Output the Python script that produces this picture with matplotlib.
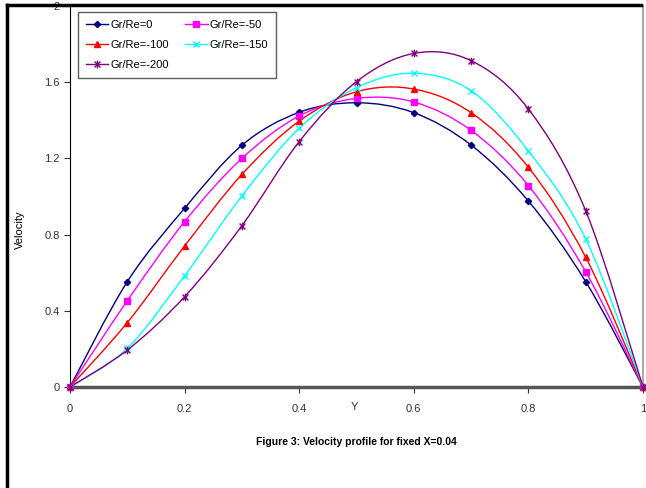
import numpy as np
import matplotlib
matplotlib.use('Agg')
import matplotlib.pyplot as plt
from matplotlib.path import Path
from matplotlib.patches import PathPatch
from matplotlib.lines import Line2D

plt.rcParams['font.family'] = ['Liberation Sans', 'DejaVu Sans']

# data
y_pos = [0, 0.1, 0.2, 0.3, 0.4, 0.5, 0.6, 0.7, 0.8, 0.9, 1.0]
v_0 = [0, 0.553, 0.938, 1.269, 1.442, 1.492, 1.440, 1.270, 0.976, 0.553, 0]
v_50 = [0, 0.453, 0.868, 1.200, 1.423, 1.515, 1.496, 1.347, 1.057, 0.605, 0]
v_100 = [0, 0.338, 0.740, 1.116, 1.396, 1.550, 1.564, 1.440, 1.153, 0.681, 0]
v_150 = [0, 0.203, 0.584, 1.003, 1.358, 1.571, 1.647, 1.555, 1.239, 0.777, 0]
v_200 = [0, 0.194, 0.474, 0.847, 1.288, 1.603, 1.751, 1.713, 1.459, 0.925, 0]
labels = ['Gr/Re=0', 'Gr/Re=-50', 'Gr/Re=-100', 'Gr/Re=-150', 'Gr/Re=-200']

# excel-like star marker: x with a vertical bar
star = Path([(-1, -1), (1, 1), (-1, 1), (1, -1), (0, -1.3), (0, 1.3)],
            [Path.MOVETO, Path.LINETO, Path.MOVETO, Path.LINETO, Path.MOVETO, Path.LINETO])

styles = [
    dict(color='#000080', marker='D', ms=3.2),
    dict(color='#FF00FF', marker='s', ms=4.3),
    dict(color='#FF0000', marker='^', ms=5),
    dict(color='#00FFFF', marker='x', ms=5),
    dict(color='#800080', marker=star, ms=5.5),
]


def smooth_path(xs, ys):
    # bezier smoothing like excel's "smoothed line"
    pts = np.column_stack([xs, ys])
    n = len(pts)
    verts = [pts[0]]
    codes = [Path.MOVETO]
    for i in range(n - 1):
        p0 = pts[max(i - 1, 0)]
        p1 = pts[i]
        p2 = pts[i + 1]
        p3 = pts[min(i + 2, n - 1)]
        c1 = p1 + (p2 - p0) / 6.0
        c2 = p2 - (p3 - p1) / 6.0
        verts += [c1, c2, p2]
        codes += [Path.CURVE4] * 3
    return Path(verts, codes)


fig = plt.figure(figsize=(6.46, 4.88), dpi=100)
ax = fig.add_axes([70 / 646, 1 - 387 / 488, 573 / 646, 381 / 488])

handles = []
for vals, lab, st in zip([v_0, v_50, v_100, v_150, v_200], labels, styles):
    ax.add_patch(PathPatch(smooth_path(y_pos, vals), facecolor='none',
                           edgecolor=st['color'], lw=1.0, zorder=3))
    ax.plot(y_pos, vals, ls='none', marker=st['marker'], ms=st['ms'],
            color=st['color'], mec=st['color'], mew=1.0, zorder=4, clip_on=False)
    handles.append(Line2D([], [], color=st['color'], lw=1.0, marker=st['marker'],
                          ms=st['ms'], mew=1.0, label=lab))

ax.set_xlim(0, 1)
ax.set_ylim(0, 2)
ax.set_xticks([0, 0.2, 0.4, 0.6, 0.8, 1])
ax.set_xticklabels(['0', '0.2', '0.4', '0.6', '0.8', '1'])
ax.set_yticks([0, 0.4, 0.8, 1.2, 1.6, 2])
ax.set_yticklabels(['0', '0.4', '0.8', '1.2', '1.6', '2'])
ax.tick_params(labelsize=8, colors='#333333', length=4, width=0.8, direction='out')
ax.tick_params(axis='x', pad=8)

ax.spines['bottom'].set_color('#555555')
ax.spines['bottom'].set_linewidth(2.5)
ax.spines['left'].set_color('black')
ax.spines['left'].set_linewidth(0.8)
ax.spines['right'].set_color('#aaaaaa')
ax.spines['right'].set_linewidth(1.5)
ax.spines['top'].set_visible(False)

ax.set_ylabel('Velocity', fontsize=8, va='center')
ax.yaxis.set_label_coords(-50 / 573, 0.412)
ax.text(0.497, -0.04, 'Y', transform=ax.transAxes, fontsize=8,
        ha='center', va='top', color='#333333')

# legend fills row by row in the reference
order = [0, 2, 4, 1, 3]
leg = ax.legend(handles=[handles[i] for i in order], ncol=2, loc='upper left',
                bbox_to_anchor=(8 / 573, 375 / 381), borderaxespad=0,
                fontsize=8, frameon=True, fancybox=False, edgecolor='#333333',
                handlelength=2.0, handletextpad=0.2, columnspacing=1.5,
                labelspacing=0.9, borderpad=0.7)
leg.get_frame().set_linewidth(1.0)

fig.text(356 / 646, 1 - 442 / 488, 'Figure 3: Velocity profile for fixed X=0.04',
         fontsize=7.5, fontweight='bold', ha='center', va='center',
         family=['Liberation Sans Narrow', 'Liberation Sans', 'DejaVu Sans'])

# page frame
fig.add_artist(Line2D([7 / 646, 7 / 646], [0, 1 - 5 / 488], color='black', lw=2.5))
fig.add_artist(Line2D([7 / 646, 641 / 646], [1 - 5 / 488, 1 - 5 / 488], color='black', lw=2.5))

fig.savefig('out.png', dpi=100)
